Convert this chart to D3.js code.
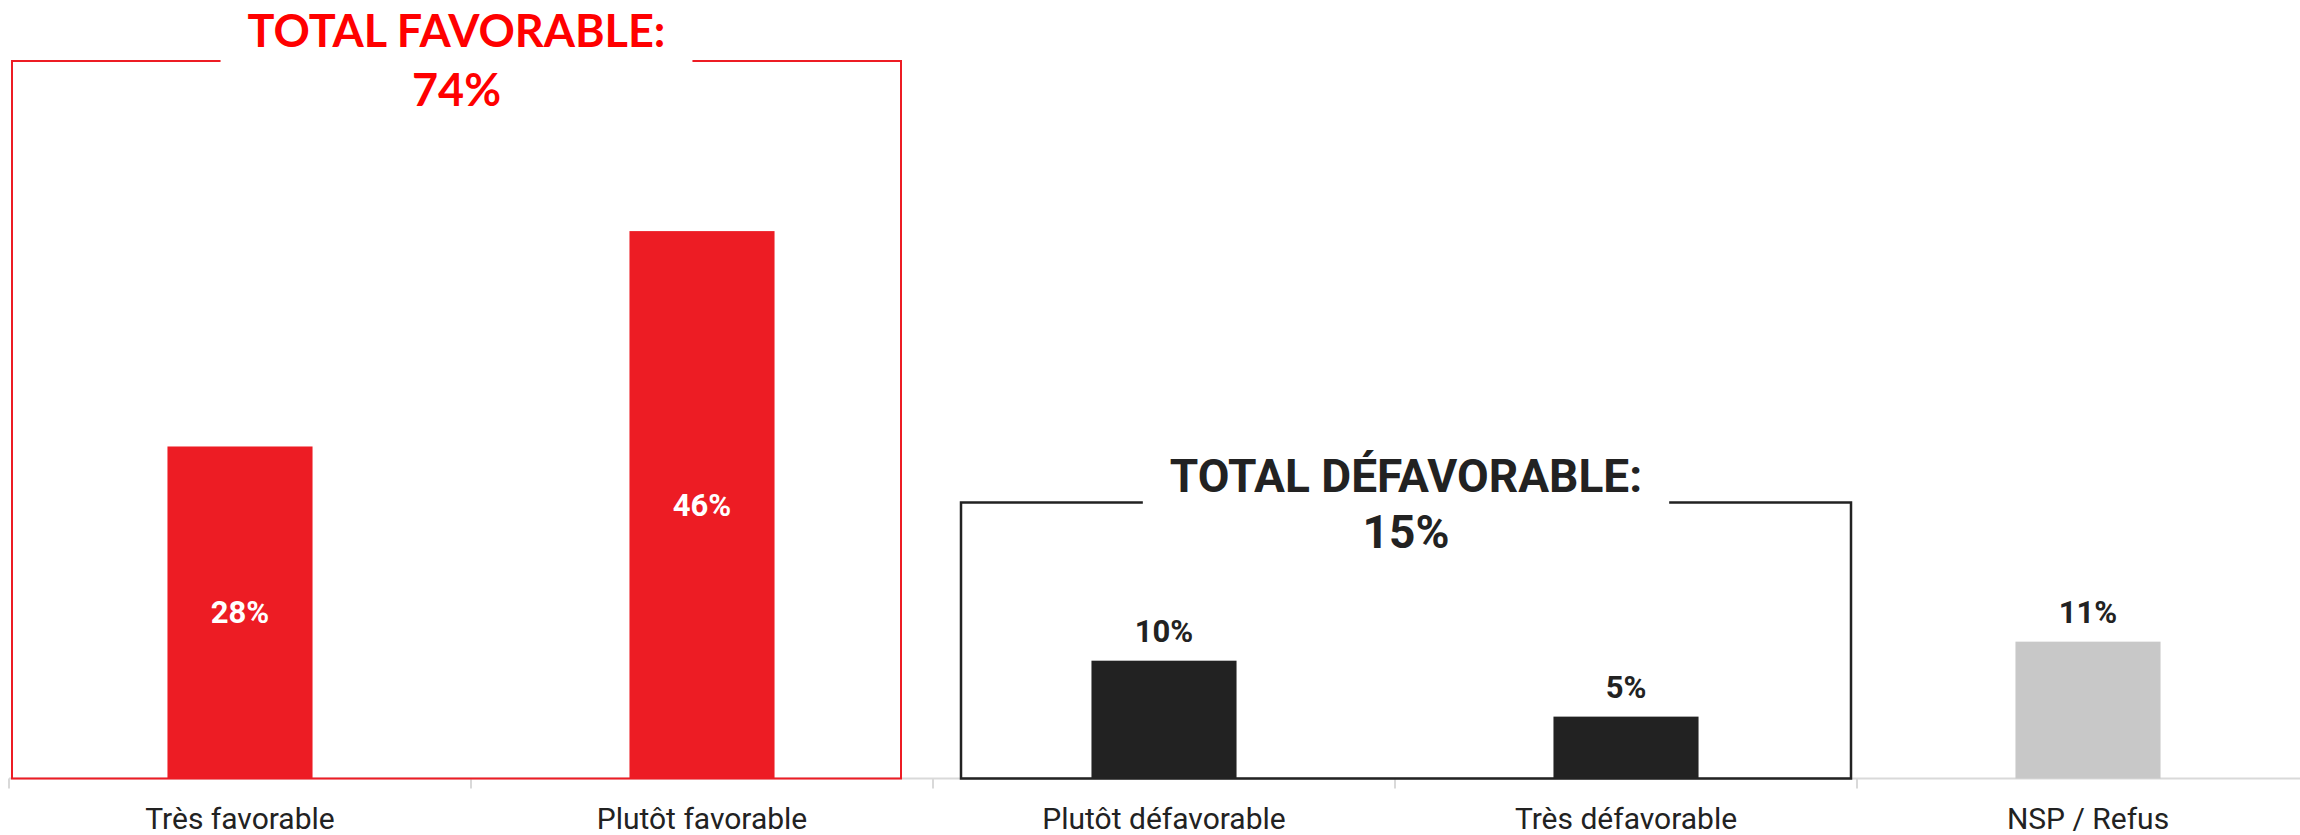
<!DOCTYPE html>
<html>
<head>
<meta charset="utf-8">
<script src="https://cdn.jsdelivr.net/npm/d3@7"></script>
<style>
    html, body { margin: 0; padding: 0; background: #fff; }
    svg { display: block; }
    .axis text { font-family: Roboto, "Noto Sans", sans-serif; font-size: 30px; fill: #222; }
    .value { font-family: Roboto, "Noto Sans", sans-serif; font-weight: 700; font-size: 31px; }
</style>
</head>
<body>
<div id="chart"></div>
<script>
// categories and values (percent)
var categories = ["Très favorable", "Plutôt favorable", "Plutôt défavorable", "Très défavorable", "NSP / Refus"];
var values = [27.9, 46.0, 9.9, 5.2, 11.5];
var valueLabels = ["28%", "46%", "10%", "5%", "11%"];
var groups = ["fav", "fav", "defav", "defav", "nsp"];

// totals shown in the framed groups
var totalTitles = ["TOTAL FAVORABLE:", "TOTAL DÉFAVORABLE:"];
var totalLabels = ["74%", "15%"];
var totalMembers = [[0, 1], [2, 3]];

(function () {
    "use strict";

    var width = 2300,
        height = 835,
        baseline = 778.5,
        colors = { fav: "#ed1c24", defav: "#222222", nsp: "#c8c8c8" },
        svg = d3.select("#chart")
            .append("svg")
            .attr("width", width)
            .attr("height", height);

    var x = d3.scaleBand()
        .domain(categories)
        .range([9, 9 + 462 * categories.length])
        .paddingInner(0.686)
        .paddingOuter(0.343);

    var y = d3.scaleLinear()
        .domain([0, 65])
        .range([baseline, baseline - 65 * 11.9]);

    var half = x.step() * x.paddingInner() / 2;

    // axis: light baseline, ticks between categories, labels below
    svg.append("line")
        .attr("x1", x.range()[0])
        .attr("x2", width)
        .attr("y1", baseline)
        .attr("y2", baseline)
        .attr("stroke", "#d9d9d9")
        .attr("stroke-width", 2);

    svg.selectAll(".tick-mark")
        .data(categories)
        .enter()
        .append("line")
        .attr("class", "tick-mark")
        .attr("x1", function (d) { return x(d) - half; })
        .attr("x2", function (d) { return x(d) - half; })
        .attr("y1", baseline)
        .attr("y2", baseline + 10)
        .attr("stroke", "#d9d9d9")
        .attr("stroke-width", 2);

    var axis = svg.append("g")
        .attr("class", "axis")
        .attr("transform", "translate(0," + baseline + ")")
        .call(d3.axisBottom(x).tickSize(0).tickPadding(29));
    axis.select(".domain").remove();

    // group frames with their totals
    var frames = [
        { color: "#ed1c24", text: "#ff0000", font: "Lato, Roboto, sans-serif", size: 45, top: 60.3, left: 3, right: -32, dyTitle: -14, dyTotal: 45, width: 2 },
        { color: "#222222", text: "#222222", font: "Roboto, sans-serif", size: 46, top: 23.2, left: 28, right: -6, dyTitle: -10.5, dyTotal: 46, width: 2.5 }
    ];

    frames.forEach(function (f, i) {
        var first = categories[totalMembers[i][0]],
            last = categories[totalMembers[i][totalMembers[i].length - 1]],
            x0 = x(first) - half + f.left,
            x1 = x(last) + x.bandwidth() + half + f.right,
            yTop = y(f.top),
            cx = (x0 + x1) / 2,
            g = svg.append("g").attr("class", "frame");

        var title = g.append("text")
            .attr("x", cx)
            .attr("y", yTop + f.dyTitle)
            .attr("text-anchor", "middle")
            .attr("font-family", f.font)
            .attr("font-weight", 700)
            .attr("font-size", f.size)
            .attr("fill", f.text)
            .text(totalTitles[i]);

        g.append("text")
            .attr("x", cx)
            .attr("y", yTop + f.dyTotal)
            .attr("text-anchor", "middle")
            .attr("font-family", f.font)
            .attr("font-weight", 700)
            .attr("font-size", f.size)
            .attr("fill", f.text)
            .text(totalLabels[i]);

        var tw = title.node().getComputedTextLength(),
            gapL = cx - tw / 2 - 27,
            gapR = cx + tw / 2 + 27;

        g.append("path")
            .attr("fill", "none")
            .attr("stroke", f.color)
            .attr("stroke-width", f.width)
            .attr("d", "M" + gapL + "," + yTop + "H" + x0 + "V" + baseline + "H" + x1 + "V" + yTop + "H" + gapR);
    });

    // bars
    svg.selectAll(".bar")
        .data(values)
        .enter()
        .append("rect")
        .attr("class", "bar")
        .attr("x", function (d, i) { return x(categories[i]); })
        .attr("y", function (d) { return y(d); })
        .attr("width", x.bandwidth())
        .attr("height", function (d) { return baseline - y(d); })
        .attr("fill", function (d, i) { return colors[groups[i]]; });

    // value labels: inside for the favorable bars, above for the others
    svg.selectAll(".value")
        .data(values)
        .enter()
        .append("text")
        .attr("class", "value")
        .attr("x", function (d, i) { return x(categories[i]) + x.bandwidth() / 2; })
        .attr("y", function (d, i) {
            return groups[i] === "fav" ? (y(d) + baseline) / 2 + 11 : y(d) - 19;
        })
        .attr("text-anchor", "middle")
        .attr("fill", function (d, i) { return groups[i] === "fav" ? "#ffffff" : "#222222"; })
        .text(function (d, i) { return valueLabels[i]; });
}());
</script>
</body>
</html>
